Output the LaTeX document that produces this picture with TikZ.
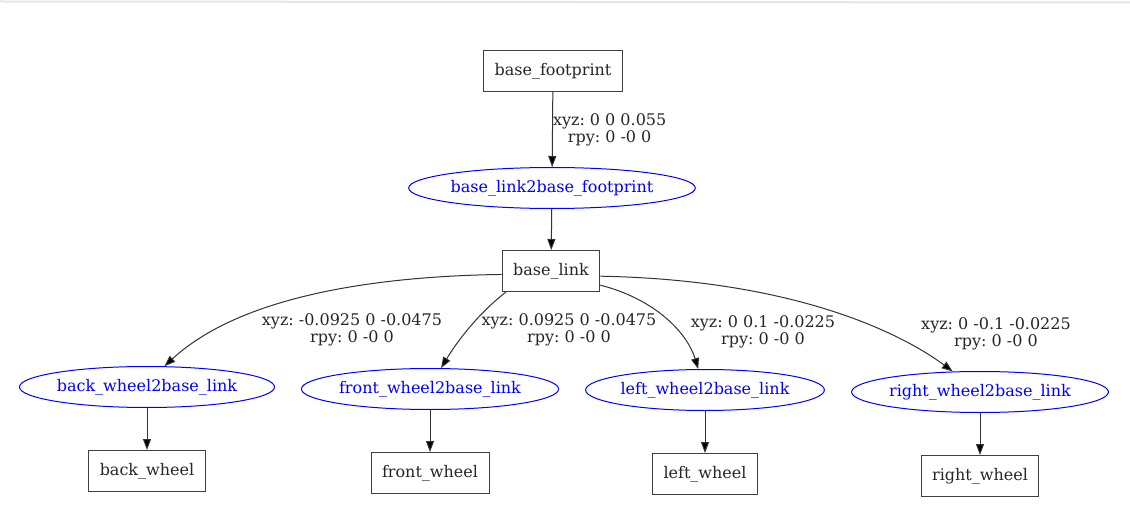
\documentclass[tikz,border=0pt]{standalone}
\usepackage{fontspec}
\setmainfont{DejaVu Serif}
\usetikzlibrary{arrows.meta}
\usetikzlibrary{shapes.geometric}
\frenchspacing

\begin{document}
\begin{tikzpicture}
  [x=1pt, y=-1pt, line width=1pt,
  font=\fontsize{16}{17}\selectfont,
  link/.style={shape=rectangle, draw=black!75, text=black!85,
         inner xsep=11pt, inner ysep=0pt, minimum height=41pt},
  joint/.style={shape=ellipse, draw=blue, text=blue,
         inner sep=0pt, minimum height=41pt},
  tf/.style={align=center, text=black!85, inner sep=0pt},
  >={Triangle[length=11pt, width=8pt, fill=black]}
  ]
  \fill[white] (0,0) rectangle (1130,529);
  \useasboundingbox (0,0) rectangle (1130,529);
  \draw[black!10, line width=2pt] (0,1.5) -- (1130,2.5);

 \path
   (553,71) node (fp)      [link] {base\_footprint}
  ++(-1,117) node (j0)     [joint] {base\_link2base\_footprint}
  ++(-1,83)  node (bl)     [link] {base\_link}
   ;
 \path
   (147,387) node (jback)  [joint] {back\_wheel2base\_link}
  ++(0,84)   node (back)   [link] {back\_wheel}
   (430,389) node (jfront) [joint] {front\_wheel2base\_link}
  ++(0,84)   node (front)  [link] {front\_wheel}
   (705,390) node (jleft)  [joint] {left\_wheel2base\_link}
  ++(0,84)   node (left)   [link] {left\_wheel}
   (980,392) node (jright) [joint] {right\_wheel2base\_link}
  ++(0,84)   node (right)  [link] {right\_wheel}
   ;

  \node (tback)  [tf] at (352,330) {xyz: -0.0925 0 -0.0475\\rpy: 0 -0 0};
  \node (tfront) [tf] at (569,330) {xyz: 0.0925 0 -0.0475\\rpy: 0 -0 0};
  \node (tleft)  [tf] at (763,332) {xyz: 0 0.1 -0.0225\\rpy: 0 -0 0};
  \node (tright) [tf] at (996,334) {xyz: 0 -0.1 -0.0225\\rpy: 0 -0 0};

   \begin{scope}[draw=black!80]
   \draw [->] (fp) to node[tf, right=0pt]{xyz: 0 0 0.055\\rpy: 0 -0 0} (j0);
   \draw [->] (j0) to (bl);
   \draw [->] (bl.184) .. controls (390,276) and (245,292) .. (jback.50);
   \draw [->] (bl.205) .. controls (479,313) and (458,340) .. (jfront.62);
   \draw [->] (bl.-16) .. controls (658,300) and (688,335) .. (jleft.108);
   \draw [->] (bl.-6) .. controls (800,280) and (905,336) .. (jright.143);
   \draw [->] (jback) to (back);
   \draw [->] (jfront) to (front);
   \draw [->] (jleft) to (left);
   \draw [->] (jright) to (right);
   \end{scope}

\end{tikzpicture}
\end{document}
